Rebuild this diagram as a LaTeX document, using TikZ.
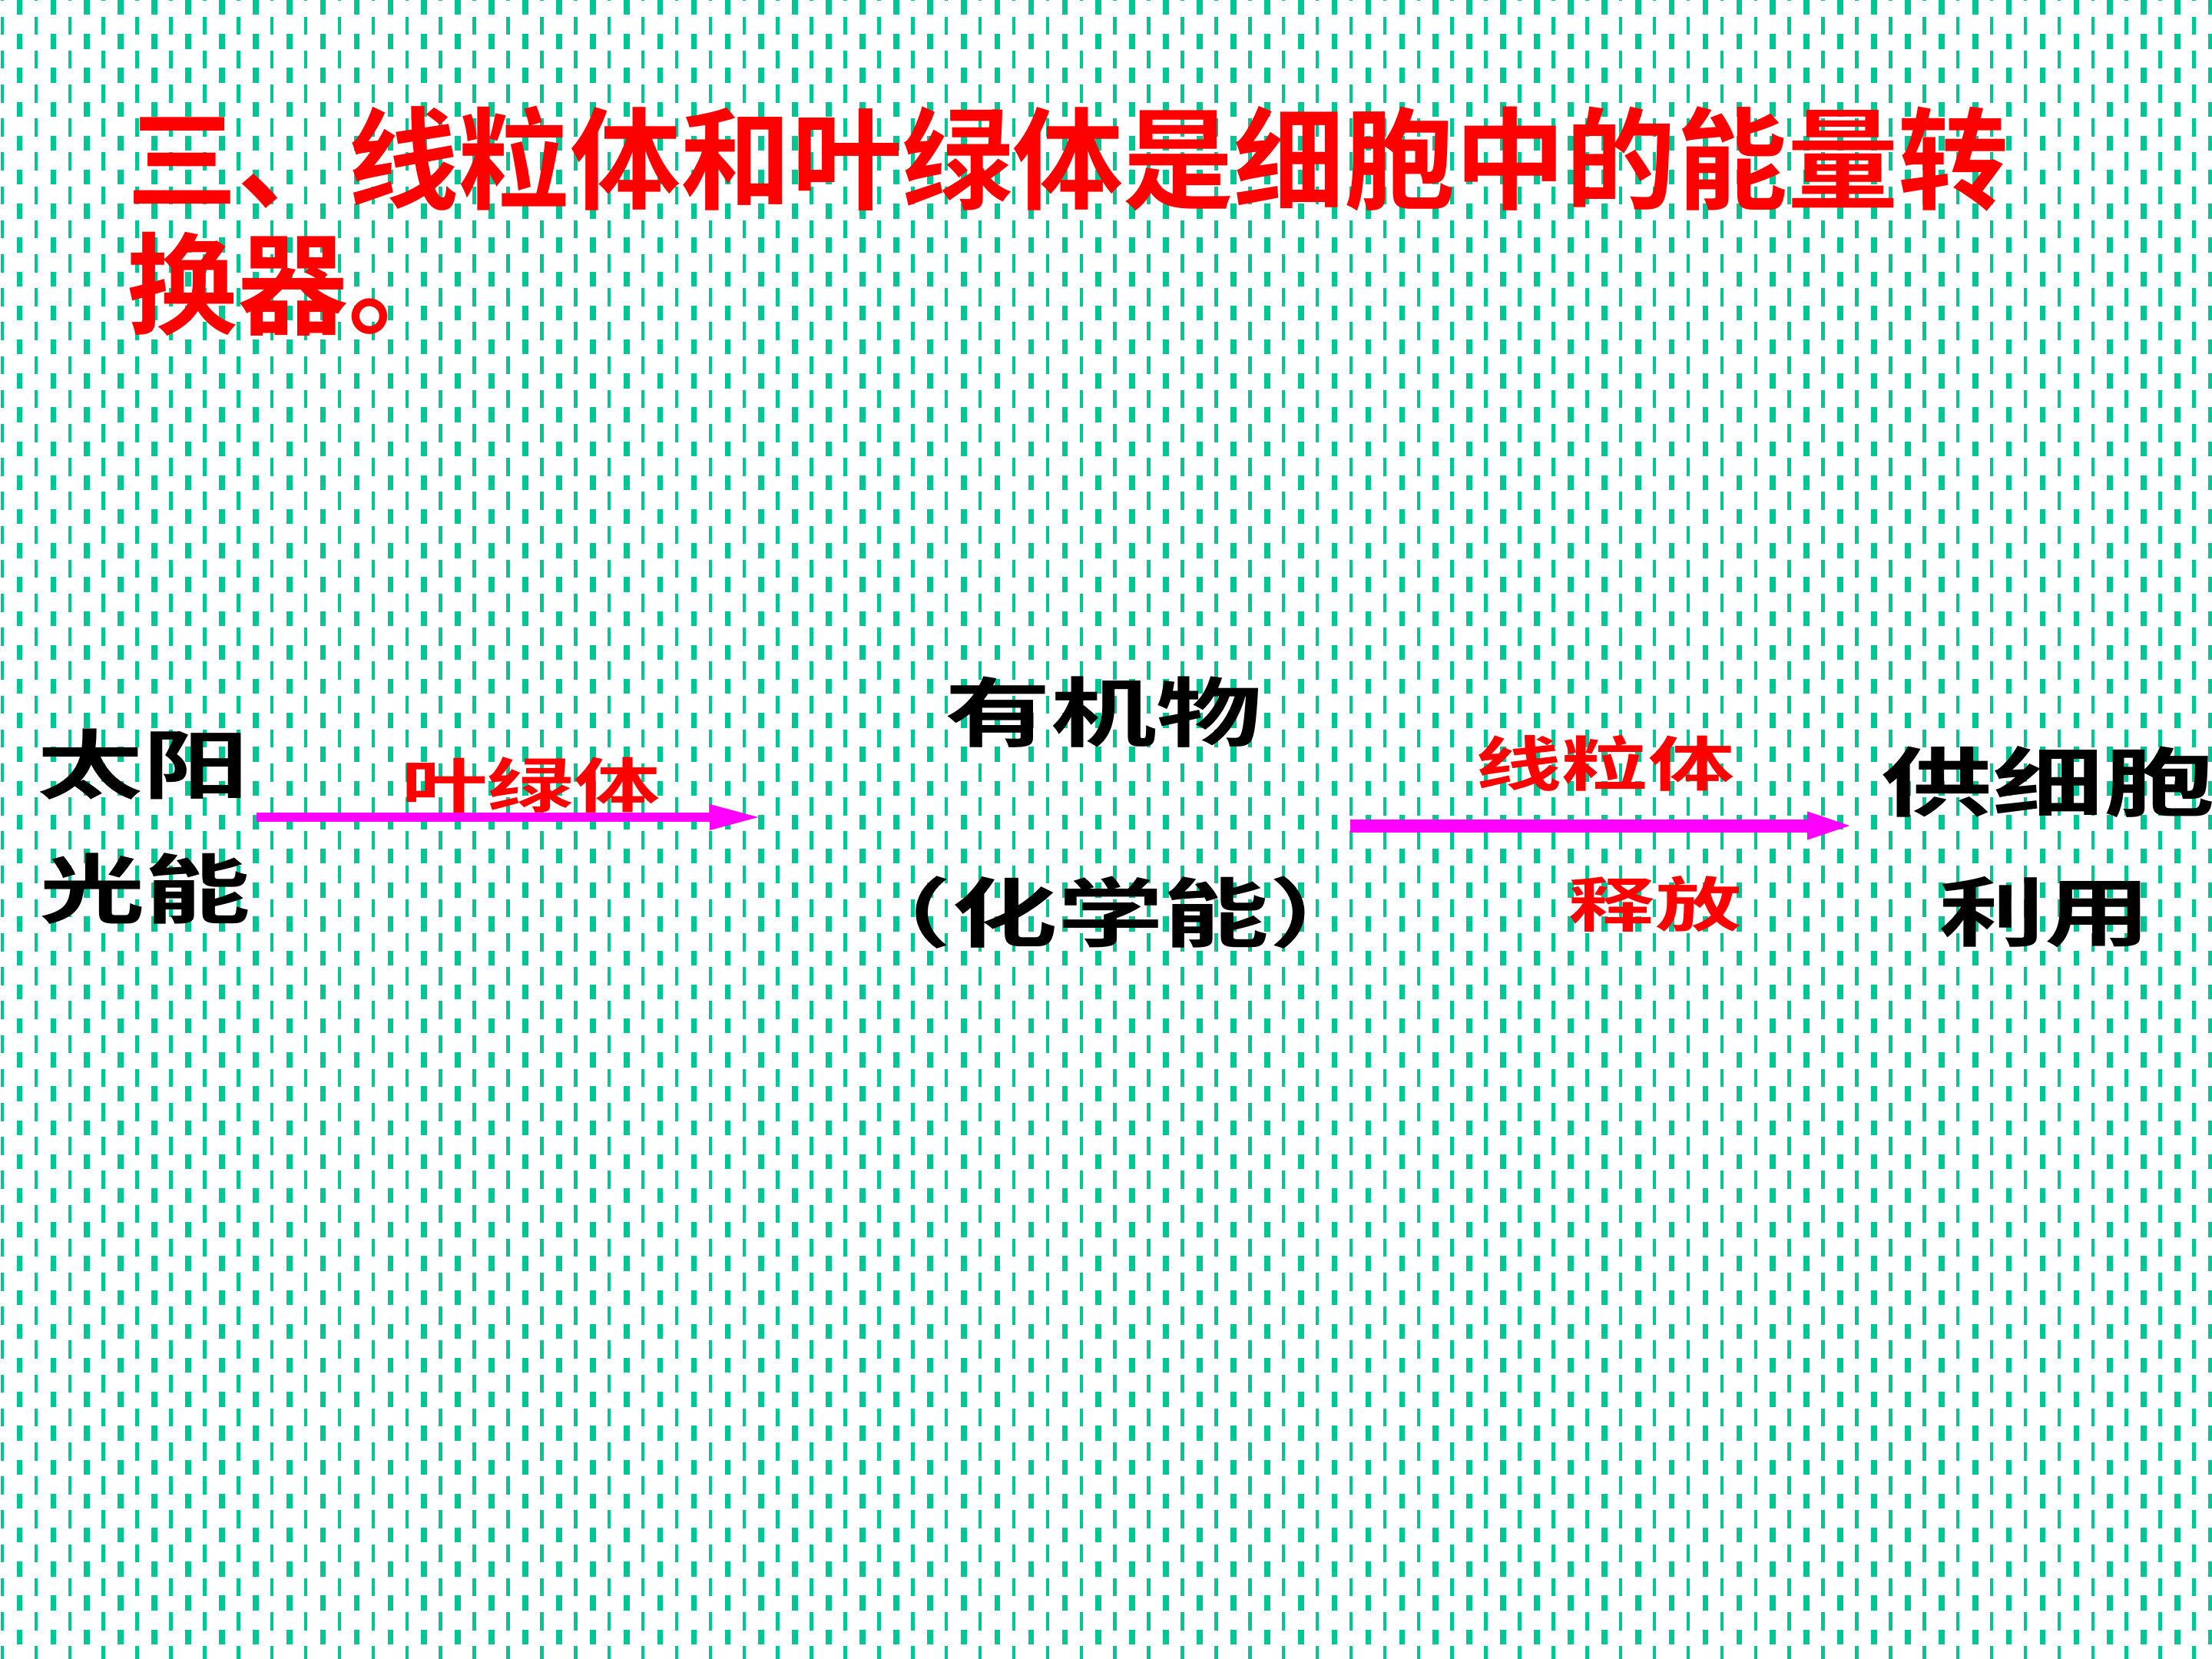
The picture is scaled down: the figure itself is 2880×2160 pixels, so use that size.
\documentclass[tikz,border=0pt]{standalone}
\usepackage{fontspec}
\usetikzlibrary{arrows.meta}
\newfontfamily\titlefont{Noto Sans CJK SC Bold}
\newfontfamily\widefont[FakeStretch=1.4]{Noto Sans CJK SC Bold}
\newfontfamily\widerfont[FakeStretch=1.47]{Noto Sans CJK SC Bold}
\newfontfamily\labelfont[FakeStretch=1.45]{Noto Sans CJK SC Bold}
\definecolor{dashteal}{RGB}{0,198,148}
\definecolor{titlered}{RGB}{255,0,0}
\definecolor{arrowpink}{RGB}{255,0,255}

\begin{document}
\begin{tikzpicture}[x=0.1mm, y=-0.1mm, every node/.style={inner sep=0pt},
    titletext/.style={font=\titlefont\fontsize{41pt}{49pt}\selectfont, text=titlered, anchor=west},
    bigtext/.style={font=\widefont\fontsize{28pt}{34pt}\selectfont, text=black},
    redlabel/.style={font=\labelfont\fontsize{22pt}{26pt}\selectfont, text=titlered},
    flow/.style={draw=arrowpink, -{Triangle[length=6.8mm,width=3mm]}}]
      \useasboundingbox (0,0) rectangle (2880,2160);
      % dashed backdrop
      \begin{scope}
        \clip (0,0) rectangle (2880,2160);
        \fill[white] (0,0) rectangle (2880,2160);
        \foreach \i in {0,...,65} {
          \draw[dashteal, line width=0.77mm, dash pattern=on 1.95mm off 2.47mm] ({25.5+43.9*\i},0) -- ++(0,2200);
          \draw[dashteal, line width=0.45mm, dash pattern=on 2.35mm off 2.07mm] ({3+43.9*\i},-22.5) -- ++(0,2230);
        }
      \end{scope}
      \node[titletext] (title1) at (165,207) {三、线粒体和叶绿体是细胞中的能量转};
      \node[titletext] (title2) at (165,370) {换器。};
      \node[bigtext] (sun) at (186,995) {太阳};
      \node[bigtext] (light) at (189,1157) {光能};
      \node[redlabel] (chloro) at (691,1022) {叶绿体};
      \node[bigtext] (organic) at (1437,927) {有机物};
      \node[bigtext] (chem) at (1446,1188) {（化学能）};
      \node[redlabel] (mito) at (2090,994) {线粒体};
      \node[redlabel] (release) at (2155,1177) {释放};
      \node[bigtext, font=\widerfont\fontsize{28pt}{34pt}\selectfont, anchor=west] (cell) at (2449,1018) {供细胞};
      \node[bigtext] (use) at (2662,1188) {利用};
      \coordinate (chlorostart) at (334,1064);
      \coordinate (chloroend) at (992,1064);
      \coordinate (mitostart) at (1758,1075);
      \coordinate (mitoend) at (2421,1075);
      \draw[flow, line width=1.2mm] (chlorostart) -- (chloroend);
      \draw[flow, line width=1.7mm] (mitostart) -- (mitoend);
    \end{tikzpicture}
\end{document}
